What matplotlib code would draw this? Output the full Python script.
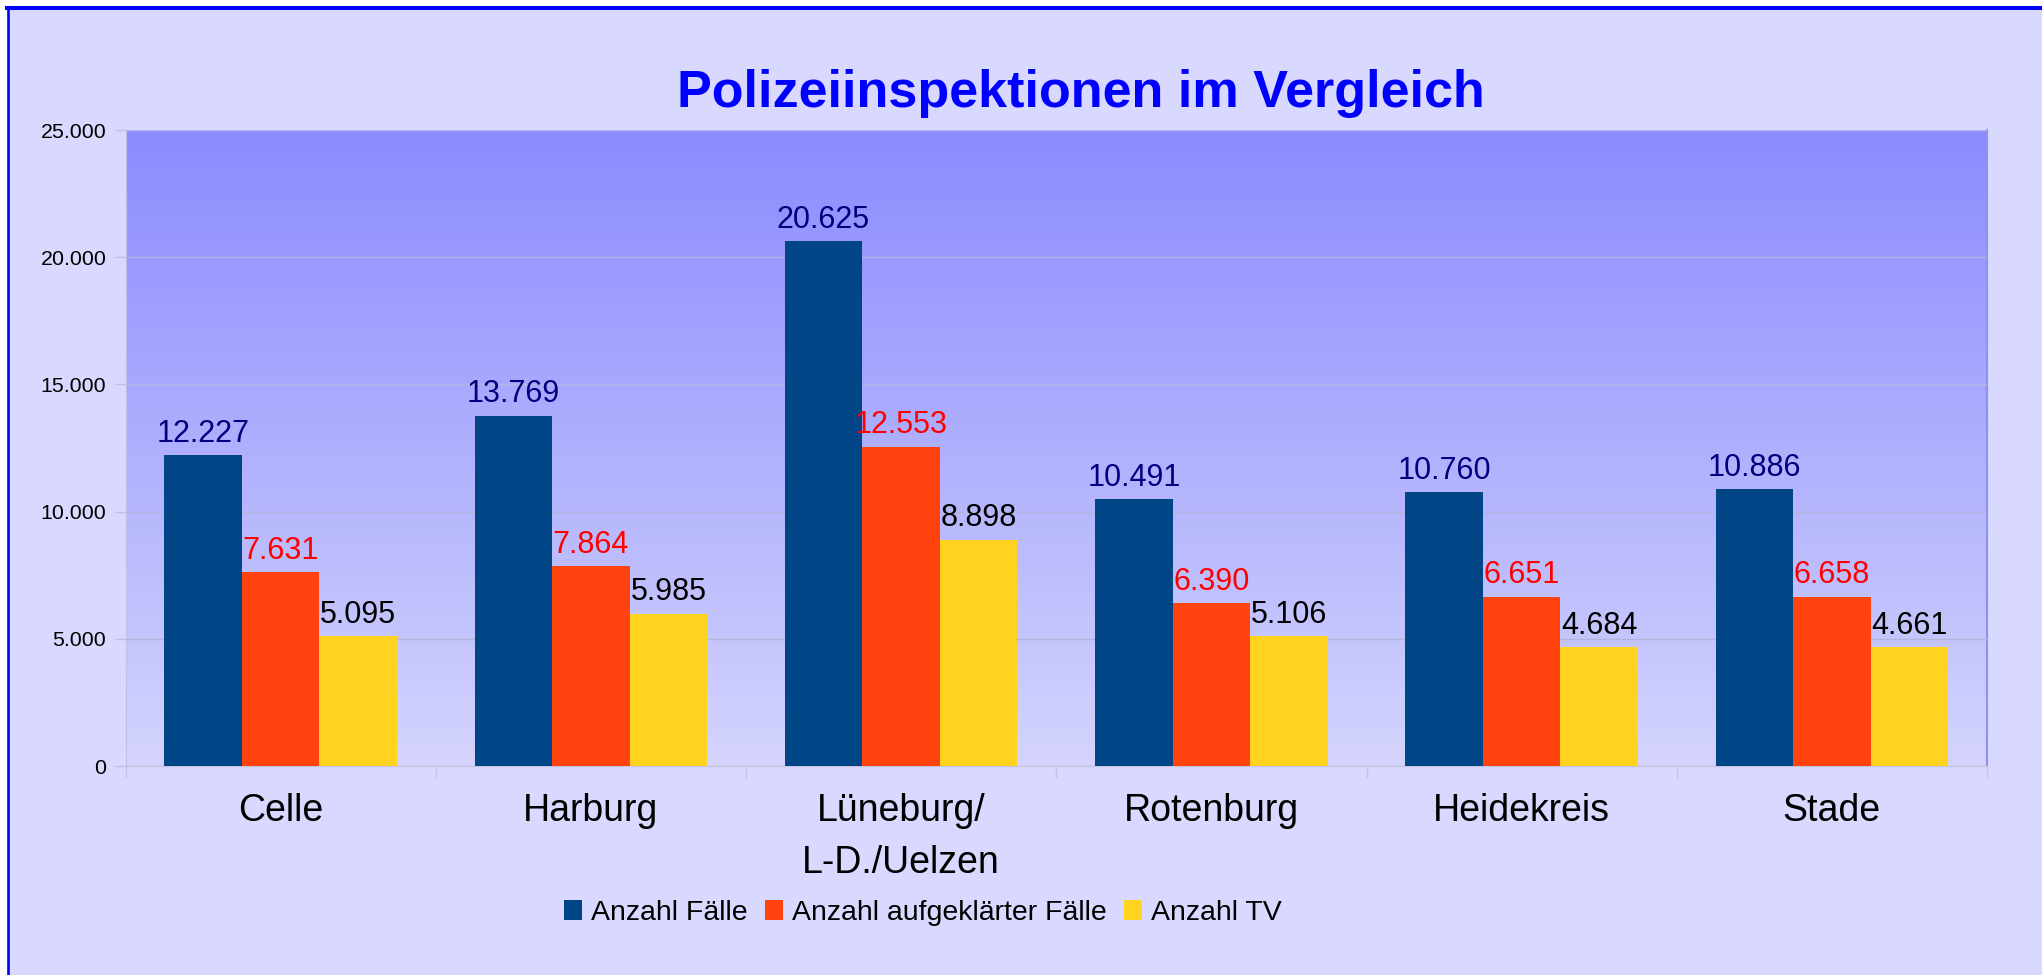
import matplotlib
matplotlib.use("Agg")
import matplotlib.pyplot as plt
import numpy as np
from matplotlib.lines import Line2D
from matplotlib.patches import Rectangle, Patch

# ---- data ----
categories = ["Celle", "Harburg", "Lüneburg/\nL-D./Uelzen", "Rotenburg", "Heidekreis", "Stade"]
series_names = ["Anzahl Fälle", "Anzahl aufgeklärter Fälle", "Anzahl TV"]
faelle = [12227, 13769, 20625, 10491, 10760, 10886]
aufgeklaert = [7631, 7864, 12553, 6390, 6651, 6658]
tv = [5095, 5985, 8898, 5106, 4684, 4661]
y_ticks = [0, 5000, 10000, 15000, 20000, 25000]
title = "Polizeiinspektionen im Vergleich"

bar_colors = ["#004586", "#ff420e", "#ffd320"]
label_colors = ["#000080", "#ff0000", "#000000"]

W, H, DPI = 2042, 975, 100
plt.rcParams['font.family'] = ['Liberation Sans', 'DejaVu Sans']

fig = plt.figure(figsize=(W / DPI, H / DPI), dpi=DPI, facecolor="white")

def fx(px):
    return px / W

def fy(py):
    return 1 - py / H

# figure background panel with blue border on top/left
fig.patches.append(Rectangle((fx(8), -0.1), 1.2, fy(8) + 0.1, transform=fig.transFigure,
                             facecolor="#d9d9ff", edgecolor="none", zorder=-5))
fig.add_artist(Line2D([fx(7), 1.0], [fy(8), fy(8)], color="#0000ff", lw=2.9, zorder=1))
fig.add_artist(Line2D([fx(8), fx(8)], [0, fy(8)], color="#0000ff", lw=1.9, zorder=1))

left, right, top, bottom = 125.5, 1987, 130, 766
ax = fig.add_axes([fx(left), fy(bottom), fx(right - left), (bottom - top) / H])
ax.set_zorder(3)
ax.set_facecolor("none")

# gradient background of plot area
top_c = np.array([139, 139, 255]) / 255
bot_c = np.array([212, 212, 253]) / 255
t = np.linspace(0, 1, 256)[:, None]
grad = (top_c[None, :] * (1 - t) + bot_c[None, :] * t)[:, None, :]
ax.imshow(grad, extent=[-0.5, 5.5, 0, 25000], aspect="auto", origin="upper", zorder=0)

x = np.arange(len(categories))
bw = 0.25
all_series = [faelle, aufgeklaert, tv]
for i, (vals, col, lcol, name) in enumerate(zip(all_series, bar_colors, label_colors, series_names)):
    pos = x + (i - 1) * bw
    ax.bar(pos, vals, width=bw, color=col, edgecolor="none", zorder=3, label=name)
    for px, v in zip(pos, vals):
        ax.annotate(f"{v:,}".replace(",", "."), (px, v), xytext=(0, 9.6), textcoords="offset points",
                    ha="center", va="baseline", fontsize=22, color=lcol, zorder=4)

ax.set_xlim(-0.5, 5.5)
ax.set_ylim(0, 25000)
ax.set_yticks(y_ticks)
ax.set_yticklabels([f"{v:,}".replace(",", ".") for v in y_ticks], fontsize=15.4, color="black")
ax.yaxis.grid(True, color="#b4b4dc", lw=1, zorder=1)
ax.set_axisbelow(False)
ax.tick_params(axis="y", length=8, width=1, color="#c0c0dc", pad=5.8)

ax.set_xticks(np.arange(-0.5, 6.0, 1.0))
ax.set_xticklabels([])
ax.tick_params(axis="x", length=8.5, width=1, color="#c4c4dc")

for xi, cat in zip(x, categories):
    for j, line in enumerate(cat.split("\n")):
        ax.text(xi, -55 / (bottom - top) - j * 52 / (bottom - top), line,
                transform=ax.get_xaxis_transform(), ha="center", va="baseline",
                fontsize=27, color="black")

for s in ["top"]:
    ax.spines[s].set_visible(False)
ax.spines["left"].set_color("#c0c0e4")
ax.spines["bottom"].set_color("#c4c4e0")
ax.spines["right"].set_color("#9090f4")
ax.spines["right"].set_linewidth(1.5)

fig.text(fx(1081), fy(107), title, ha="center", va="baseline", fontsize=37.5,
         fontweight="bold", color="#0000ff")

handles = [Patch(facecolor=c, edgecolor="none") for c in bar_colors]
fig.legend(handles, series_names, loc="center", bbox_to_anchor=(fx(923), fy(913)),
           ncol=3, frameon=False, fontsize=20.5, handlelength=0.63, handleheight=0.67,
           handletextpad=0.32, columnspacing=0.6, borderpad=0)

fig.savefig("out.png", dpi=DPI, facecolor="white")
